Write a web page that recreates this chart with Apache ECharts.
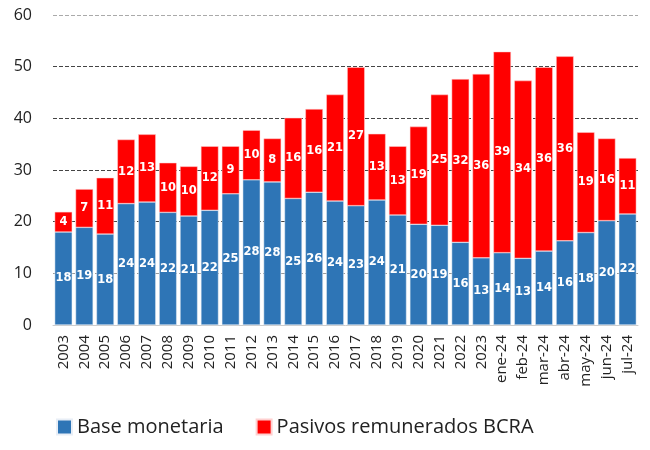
<!DOCTYPE html>
<html>
<head>
<meta charset="utf-8">
<script src="https://cdn.jsdelivr.net/npm/echarts@6/dist/echarts.min.js"></script>
<style>
html,body{margin:0;padding:0;background:#fff;}
#chart{width:650px;height:450px;}
</style>
</head>
<body>
<div id="chart"></div>
<script>
// categorias (años y meses 2024)
var categorias = ['2003','2004','2005','2006','2007','2008','2009','2010','2011','2012','2013','2014','2015','2016','2017','2018','2019','2020','2021','2022','2023','ene-24','feb-24','mar-24','abr-24','may-24','jun-24','jul-24'];
// base monetaria
var baseMonetaria = [18.0,18.9,17.6,23.5,23.8,21.8,21.1,22.2,25.4,28.1,27.7,24.5,25.7,24.0,23.1,24.2,21.3,19.5,19.3,16.0,13.0,14.0,12.9,14.3,16.3,17.9,20.2,21.5];
// pasivos remunerados BCRA
var pasivosBCRA = [3.9,7.4,10.9,12.4,13.1,9.6,9.6,12.4,9.2,9.6,8.4,15.6,16.1,20.6,26.8,12.8,13.3,18.9,25.3,31.6,35.6,38.9,34.4,35.6,35.7,19.4,15.9,10.8];
var ticksY = [0,10,20,30,40,50,60];

var chart = echarts.init(document.getElementById('chart'));

var etiqueta = {
    show: true,
    position: 'inside',
    color: '#fff',
    fontWeight: 'bold',
    fontSize: 11.5,
    fontFamily: 'DejaVu Sans',
    formatter: function(p){ return Math.round(p.value); }
};

var option = {
    animation: false,
    grid: { left: 53, right: 12, top: 15, bottom: 125 },
    legend: {
        bottom: 8,
        left: 51,
        itemWidth: 15,
        itemHeight: 15,
        itemGap: 32,
        icon: 'rect',
        textStyle: { fontSize: 20, color: '#222', fontFamily: 'Open Sans' },
        data: ['Base monetaria', 'Pasivos remunerados BCRA']
    },
    xAxis: {
        type: 'category',
        data: categorias,
        axisLine: { lineStyle: { color: '#ccc' } },
        axisTick: { show: false },
        axisLabel: { rotate: 90, color: '#222', fontSize: 15, fontFamily: 'Open Sans', margin: 10, interval: 0 }
    },
    yAxis: {
        type: 'value',
        min: ticksY[0],
        max: ticksY[ticksY.length - 1],
        interval: 10,
        axisLine: { show: false },
        axisTick: { show: false },
        axisLabel: { color: '#222', fontSize: 16, fontFamily: 'Open Sans', margin: 21 },
        splitLine: { lineStyle: { type: 'dashed', color: ['#bbb','#999','#444','#444','#444','#444','#aaa'] } }
    },
    series: [
        {
            name: 'Base monetaria',
            type: 'bar',
            stack: 'total',
            barCategoryGap: '16%',
            data: baseMonetaria,
            itemStyle: { color: '#2E75B6', borderColor: '#e8eef6', borderWidth: 0.5 },
            label: etiqueta
        },
        {
            name: 'Pasivos remunerados BCRA',
            type: 'bar',
            stack: 'total',
            data: pasivosBCRA,
            itemStyle: { color: '#FF0000', borderColor: '#ffd0d0', borderWidth: 0.5 },
            label: etiqueta
        }
    ]
};
chart.setOption(option);
</script>
</body>
</html>
